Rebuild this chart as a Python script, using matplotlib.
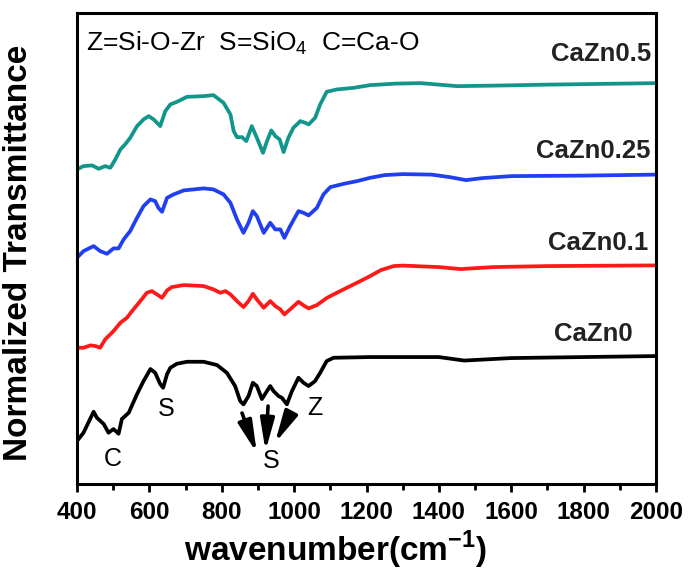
import numpy as np
import matplotlib
matplotlib.use("Agg")
import matplotlib.pyplot as plt

plt.rcParams['font.family'] = ['Liberation Sans', 'DejaVu Sans']
plt.rcParams['mathtext.fontset'] = 'custom'
plt.rcParams['mathtext.rm'] = 'Liberation Sans'
plt.rcParams['mathtext.bf'] = 'Liberation Sans:bold'

# FTIR spectra, transmittance in arbitrary (offset) units
wn_0 = [400, 418, 446, 455, 474, 487, 501, 515, 524, 543, 566, 584, 603, 616, 630, 638,
        649, 658, 676, 704, 750, 787, 814, 837, 851, 860, 874, 886, 897, 911, 925, 934,
        943, 957, 966, 980, 994, 1012, 1026, 1040, 1058, 1072, 1090, 1109, 1210, 1400,
        1470, 1600, 2000]
t_0 = [43, 51.3, 72.3, 66.3, 60, 51.3, 55, 50.3, 65, 71.3, 90, 103, 115, 111.3, 100, 96.3,
       110, 116.3, 120.3, 122.3, 122.3, 119, 111.3, 98, 83, 79.7, 88, 101.3, 98, 85, 93, 98,
       93, 88, 86.3, 79.7, 93, 106.3, 101.3, 98, 103, 111.3, 123, 126.3, 127, 127,
       123.5, 126, 128]

wn_01 = [400, 418, 437, 451, 464, 478, 501, 520, 538, 556, 575, 593, 607, 621, 635, 649,
         662, 695, 750, 777, 796, 810, 824, 842, 860, 874, 886, 897, 916, 934, 948, 962,
         973, 989, 1012, 1026, 1040, 1063, 1091, 1118, 1155, 1183, 1210, 1240, 1275, 1300,
         1400, 1460, 1550, 1700, 2000]
t_01 = [136.3, 136.3, 138.7, 138, 136.3, 144.7, 153, 161.3, 166.3, 174.7, 183, 191.3, 193,
        189.7, 186.3, 193.7, 197, 199, 198, 194.7, 191.3, 193, 189.7, 183, 177, 183, 190.3,
        184.7, 176.3, 183, 178, 174.7, 169.7, 174.7, 182.3, 178.7, 175.7, 179, 186.3, 191.3,
        198, 203, 208, 214, 218, 218.5, 217, 215, 217, 218, 218.7]

wn_025 = [400, 418, 446, 464, 483, 501, 515, 529, 547, 566, 584, 603, 616, 625, 635, 649,
          667, 695, 750, 777, 805, 824, 842, 860, 874, 886, 897, 916, 934, 948, 962, 973,
          989, 1012, 1026, 1040, 1063, 1081, 1100, 1137, 1174, 1210, 1250, 1300, 1380, 1430,
          1475, 1520, 1600, 1800, 2000]
t_025 = [226.3, 233, 238, 233, 230.3, 235.7, 235.7, 244.7, 253, 266.3, 278, 284.7, 283,
         276.3, 272.3, 286.3, 289.7, 293.7, 295.7, 294.7, 289.7, 281.3, 264.7, 251.3, 261.3,
         273, 268, 251.3, 261.3, 254.7, 254.7, 246.3, 258, 273, 271.3, 268.7, 276.3, 289.7,
         297, 300.3, 303, 306.3, 309, 310, 309.5, 307, 304, 306, 308, 308.5, 309.5]

wn_05 = [400, 418, 442, 460, 478, 492, 506, 520, 533, 547, 566, 584, 598, 612, 630, 644,
         658, 676, 704, 750, 777, 805, 824, 833, 842, 856, 868, 883, 897, 914, 925, 937,
         948, 960, 971, 984, 998, 1017, 1031, 1040, 1058, 1072, 1090, 1118, 1164, 1210,
         1280, 1350, 1450, 1550, 1700, 2000]
t_05 = [314.7, 318, 318.7, 315.3, 318, 316.3, 324.7, 334.7, 339.7, 346.3, 358, 364.7, 368,
        364.7, 358, 373, 379.7, 382.3, 387.3, 388, 389, 381.3, 369.7, 353, 347, 347, 343,
        358, 346.3, 331.3, 343, 353.7, 348, 344.7, 332, 346.3, 356.3, 363, 361.3, 359.7,
        366.3, 379.7, 392.3, 394.7, 396.3, 399, 400.5, 401, 398, 398.5, 399.5, 401]

samples = ["CaZn0", "CaZn0.1", "CaZn0.25", "CaZn0.5"]
colors = ["#000000", "#ff1a1a", "#1f3ff0", "#12968c"]
label_pos = [(1934, 150), (1978, 241), (1986, 333), (1986, 430)]

# band assignments on the CaZn0 spectrum
band_labels = [("C", 499, 25), ("S", 646, 75), ("S", 937, 23), ("Z", 1057, 76)]
arrow_start = [(856, 71), (928, 78), (991, 71)]
arrow_end = [(897, 31), (921, 33), (947, 41)]

fig = plt.figure(figsize=(6.91, 5.72), dpi=100)
ax = fig.add_axes([0.1114, 0.1538, 0.838, 0.8232])

for wn, t, c in zip([wn_0, wn_01, wn_025, wn_05], [t_0, t_01, t_025, t_05], colors):
	ax.plot(wn, t, color=c, lw=2.7, solid_joinstyle='round')

for name, c, (x, y) in zip(samples, colors, label_pos):
	ax.text(x, y, name, ha='right', va='center', fontsize=18.5, fontweight='bold', color='#222222')

for s, x, y in band_labels:
	ax.text(x, y, s, ha='center', va='center', fontsize=18)

for (x0, y0), (x1, y1) in zip(arrow_start, arrow_end):
	ax.annotate("", xy=(x1, y1), xytext=(x0, y0),
		arrowprops=dict(arrowstyle="-|>,head_length=1.9,head_width=0.42", color='black', lw=2.6,
			shrinkA=0, shrinkB=0))

ax.text(426, 441, r"Z=Si-O-Zr  S=SiO$_4$  C=Ca-O", ha='left', va='center', fontsize=19)

ax.set_xlim(400, 2000)
ax.set_ylim(0, 471)
ax.set_xticks(np.arange(400, 2001, 200))
ax.set_xticks(np.arange(500, 2000, 200), minor=True)
ax.set_yticks([])
ax.tick_params(axis='x', which='major', direction='out', length=6, width=2, pad=6, labelsize=17.5)
ax.tick_params(axis='x', which='minor', direction='out', length=4, width=2)
for lab in ax.get_xticklabels():
	lab.set_fontweight('bold')
for sp in ax.spines.values():
	sp.set_linewidth(2.2)

ax.set_xlabel(r"wavenumber(cm$^{\mathbf{-1}}$)", fontsize=24, fontweight='bold')
ax.xaxis.set_label_coords(0.447, -0.095)
ax.set_ylabel("Normalized Transmittance", fontsize=24, fontweight='bold')
ax.yaxis.set_label_coords(-0.075, 0.49)

fig.savefig("out.png", dpi=100)
